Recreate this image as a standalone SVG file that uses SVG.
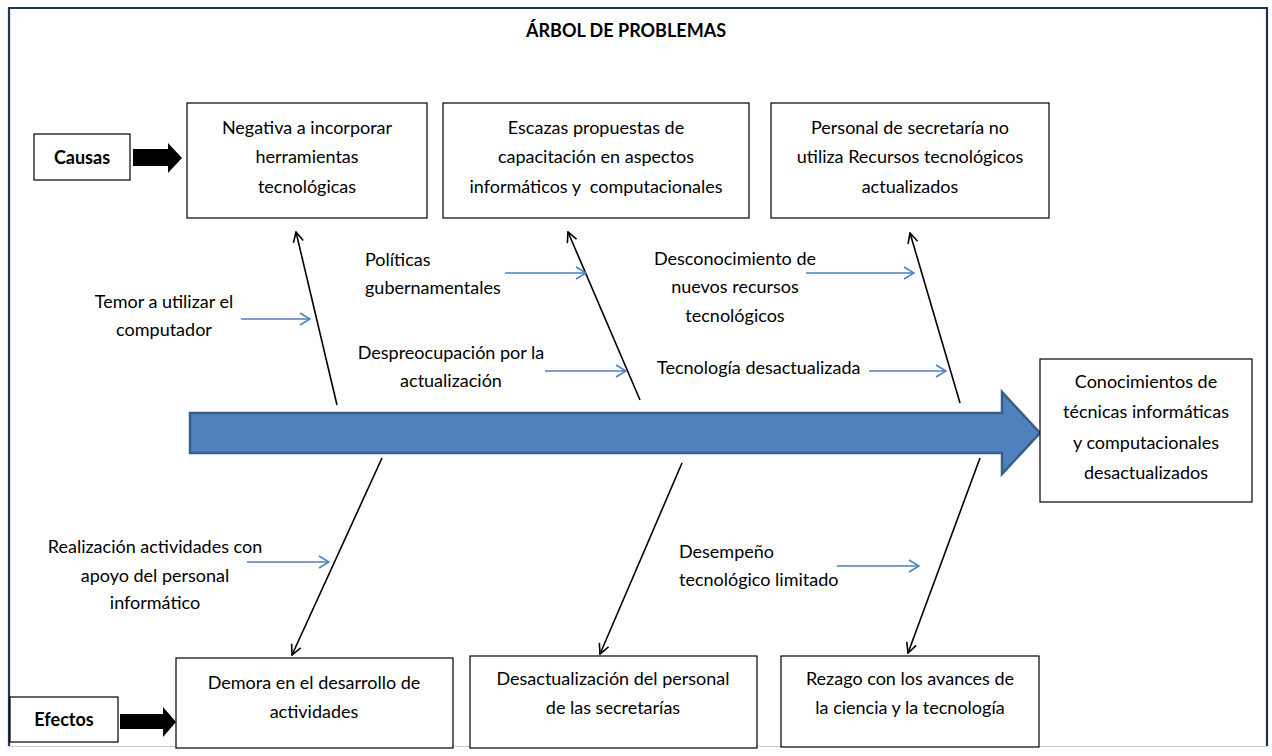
<svg xmlns="http://www.w3.org/2000/svg" width="1272" height="756" viewBox="0 0 1272 756">
<style>
  .t { font-family: Lato, "Liberation Sans", sans-serif; font-size: 18px; fill: #000; text-anchor: middle; }
  .l { text-anchor: start; }
  .b { font-weight: bold; }
  .box { fill: #fff; stroke: #000; stroke-width: 1.2; }
  .blk { stroke: #000; stroke-width: 1.6; fill: none; marker-end: url(#ak); }
  .blu { stroke: #4F81BD; stroke-width: 1.6; fill: none; marker-end: url(#ab); }
</style>
<defs>
  <marker id="ak" viewBox="0 0 12 12" refX="11" refY="6" markerWidth="12" markerHeight="12" markerUnits="userSpaceOnUse" orient="auto">
    <path d="M1,1 L11,6 L1,11" fill="none" stroke="#000" stroke-width="1.6"/>
  </marker>
  <marker id="ab" viewBox="0 0 12 14" refX="11" refY="7" markerWidth="12" markerHeight="14" markerUnits="userSpaceOnUse" orient="auto">
    <path d="M1,1 L11,7 L1,13" fill="none" stroke="#4F81BD" stroke-width="1.6"/>
  </marker>
</defs>
<rect width="1272" height="756" fill="#fff"/>
<!-- frame -->
<path d="M9,746 V8 H1267 V746" fill="none" stroke="#1F3251" stroke-width="2.2"/>
<line x1="9" y1="746.5" x2="1267" y2="746.5" stroke="#C8C8C8" stroke-width="1.2"/>

<g id="title"><text class="t b" x="626" y="37">ÁRBOL DE PROBLEMAS</text></g>

<g id="spine">
  <path d="M190,413 H1002 V392 L1040,433 L1002,474 V453 H190 Z" fill="#4F81BD" stroke="#385D8A" stroke-width="2.5"/>
</g>

<g id="causas">
  <rect class="box" x="34" y="134" width="96" height="46"/>
  <text class="t b" x="82" y="164">Causas</text>
  <path d="M133,149 H168 V143 L182,158 L168,173 V166 H133 Z" fill="#000"/>
</g>
<g id="efectos">
  <rect class="box" x="10" y="697" width="108" height="45"/>
  <text class="t b" x="64" y="726">Efectos</text>
  <path d="M120,714 H163 V707 L176,722 L163,737 V729 H120 Z" fill="#000"/>
</g>

<g id="cause1">
  <rect class="box" x="187" y="103" width="240" height="115"/>
  <text class="t" x="307" y="134">Negativa a incorporar</text>
  <text class="t" x="307" y="163">herramientas</text>
  <text class="t" x="307" y="193">tecnológicas</text>
</g>
<g id="cause2">
  <rect class="box" x="443" y="103" width="306" height="115"/>
  <text class="t" x="596" y="134">Escazas propuestas de</text>
  <text class="t" x="596" y="163">capacitación en aspectos</text>
  <text class="t" x="596" y="193" xml:space="preserve">informáticos y  computacionales</text>
</g>
<g id="cause3">
  <rect class="box" x="771" y="103" width="278" height="115"/>
  <text class="t" x="910" y="134">Personal de secretaría no</text>
  <text class="t" x="910" y="163">utiliza Recursos tecnológicos</text>
  <text class="t" x="910" y="193">actualizados</text>
</g>
<g id="problem">
  <rect class="box" x="1040" y="359" width="212" height="143"/>
  <text class="t" x="1146" y="388">Conocimientos de</text>
  <text class="t" x="1146" y="418">técnicas informáticas</text>
  <text class="t" x="1146" y="449">y computacionales</text>
  <text class="t" x="1146" y="479">desactualizados</text>
</g>
<g id="effect1">
  <rect class="box" x="176" y="658" width="277" height="90"/>
  <text class="t" x="314" y="689">Demora en el desarrollo de</text>
  <text class="t" x="314" y="718">actividades</text>
</g>
<g id="effect2">
  <rect class="box" x="470" y="656" width="287" height="92"/>
  <text class="t" x="613" y="685">Desactualización del personal</text>
  <text class="t" x="613" y="714">de las secretarías</text>
</g>
<g id="effect3">
  <rect class="box" x="781" y="656" width="258" height="91"/>
  <text class="t" x="910" y="685">Rezago con los avances de</text>
  <text class="t" x="910" y="714">la ciencia y la tecnología</text>
</g>

<g id="sub-temor">
  <text class="t" x="164" y="308">Temor a utilizar el</text>
  <text class="t" x="164" y="336">computador</text>
</g>
<g id="sub-politicas">
  <text class="t l" x="365" y="266">Políticas</text>
  <text class="t l" x="365" y="294">gubernamentales</text>
</g>
<g id="sub-despreocupacion">
  <text class="t" x="451" y="359">Despreocupación por la</text>
  <text class="t" x="451" y="387">actualización</text>
</g>
<g id="sub-desconocimiento">
  <text class="t" x="735" y="265">Desconocimiento de</text>
  <text class="t" x="735" y="293">nuevos recursos</text>
  <text class="t" x="735" y="322">tecnológicos</text>
</g>
<g id="sub-tecnologia">
  <text class="t l" x="657" y="374">Tecnología desactualizada</text>
</g>
<g id="sub-realizacion">
  <text class="t" x="155" y="553">Realización actividades con</text>
  <text class="t" x="155" y="582">apoyo del personal</text>
  <text class="t" x="155" y="609">informático</text>
</g>
<g id="sub-desempeno">
  <text class="t l" x="679" y="558">Desempeño</text>
  <text class="t l" x="679" y="586">tecnológico limitado</text>
</g>

<g id="connectors">
  <line class="blk" x1="337" y1="405" x2="296" y2="232"/>
  <line class="blk" x1="640" y1="400" x2="568" y2="232"/>
  <line class="blk" x1="960" y1="403" x2="910" y2="233"/>
  <line class="blk" x1="382" y1="458" x2="292" y2="655"/>
  <line class="blk" x1="682" y1="463" x2="600" y2="654"/>
  <line class="blk" x1="980" y1="458" x2="908" y2="653"/>
  <line class="blu" x1="241" y1="319" x2="310" y2="319"/>
  <line class="blu" x1="505" y1="273" x2="586" y2="273"/>
  <line class="blu" x1="545" y1="371" x2="626" y2="371"/>
  <line class="blu" x1="806" y1="273" x2="914" y2="273"/>
  <line class="blu" x1="869" y1="371" x2="946" y2="371"/>
  <line class="blu" x1="247" y1="562" x2="329" y2="562"/>
  <line class="blu" x1="837" y1="566" x2="919" y2="566"/>
</g>
</svg>
